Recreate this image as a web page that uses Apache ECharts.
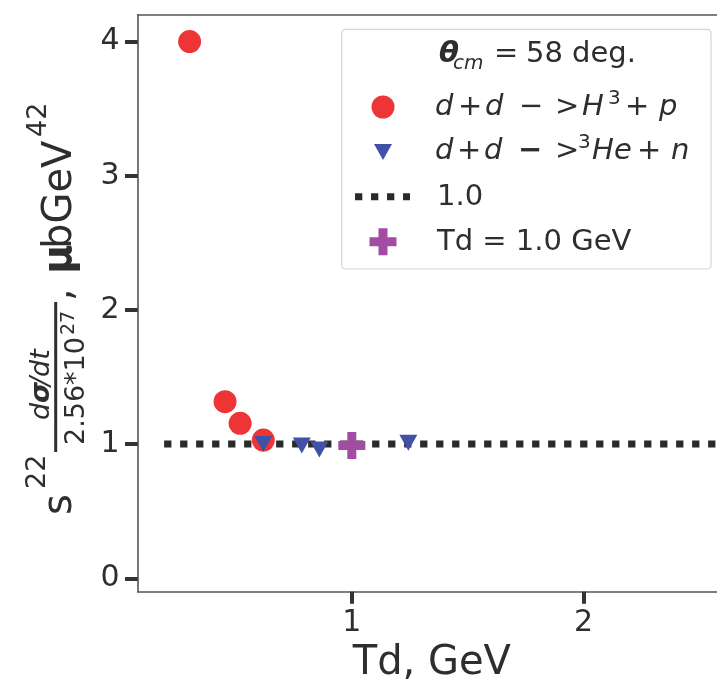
<!DOCTYPE html>
<html>
<head>
<meta charset="utf-8">
<script src="https://cdn.jsdelivr.net/npm/echarts@6/dist/echarts.min.js"></script>
<style>
  html, body { margin: 0; padding: 0; background: #fff; }
  #chart { width: 717px; height: 692px; }
</style>
</head>
<body>
<div id="chart"></div>
<script>
// Scaled cross section s^22 dσ/dt vs deuteron kinetic energy, θcm = 58°
const tritonX = [0.30, 0.453, 0.518, 0.618];
const tritonY = [4.0, 1.316, 1.155, 1.03];
const helionX = [0.618, 0.784, 0.86, 1.244];
const helionY = [1.0, 0.99, 0.96, 1.01];
const refX = [0.19, 2.6];
const refY = [1.0, 1.0];
const tdX = [1.0];
const tdY = [0.99];
const xTickValues = [1, 2];
const yTickValues = [0, 1, 2, 3, 4];

const FONT = 'DejaVu Sans';
const INK = '#2e2e2e';
const RED = '#ee3535';
const BLUE = '#4152a6';
const PURPLE = '#a24ca2';

const pairs = (xs, ys) => xs.map((x, i) => [x, ys[i]]);
const PLUS = 'path://M3,0 H6 V3 H9 V6 H6 V9 H3 V6 H0 V3 H3 Z';

// text placed by its baseline
function txt(x, base, text, size, extra) {
  return {
    type: 'text', x: x, y: base - 0.35 * size, z: 100,
    style: Object.assign({
      text: text, fontSize: size, fontFamily: FONT, fill: INK,
      align: 'left', verticalAlign: 'middle'
    }, extra || {})
  };
}
const IT = { fontStyle: 'italic' };

// rotated y-axis title: s^22 (dσ/dt)/(2.56*10^27), μbGeV^42
const yTitle = {
  type: 'group', x: 75, y: 515, rotation: Math.PI / 2, z: 100,
  children: [
    txt(0, 0, 's', 40),
    txt(26, -28, '22', 27),
    { type: 'rect', shape: { x: 63, y: -20.8, width: 150, height: 3 }, style: { fill: INK } },
    txt(95, -24, 'd', 27, IT),
    txt(112, -24, 'σ', 27, { fontStyle: 'italic', fontWeight: 'bold' }),
    txt(129, -24, '/', 27, IT),
    txt(138, -24, 'dt', 27, IT),
    txt(70, 11.5, '2.56*10', 27),
    txt(180, 1, '27', 19),
    txt(214, 0, ',', 40),
    txt(241, 0, 'μ', 40, { fontWeight: 'bold' }),
    txt(266, 0, 'bGeV', 40),
    txt(378, -27, '42', 27)
  ]
};

// legend panel
const legend = {
  type: 'group', z: 90,
  children: [
    { type: 'rect', shape: { x: 341.7, y: 29.3, width: 369.3, height: 239.7, r: 4 },
      style: { fill: 'rgba(255,255,255,0.85)', stroke: '#d4d4d4', lineWidth: 1.2 } },
    txt(439, 65, 'θ', 29, { fontStyle: 'italic', fontWeight: 'bold' }),
    txt(453, 71, 'cm', 20, IT),
    txt(494, 65, '=', 29),
    txt(526, 65, '58 deg.', 29),

    { type: 'circle', shape: { cx: 383, cy: 107, r: 11.5 }, style: { fill: RED } },
    txt(435, 118, 'd', 29, IT), txt(458, 118, '+', 29), txt(485, 118, 'd', 29, IT),
    txt(519, 118, '−', 29), txt(555, 118, '>', 29), txt(582, 118, 'H', 29, IT),
    txt(608, 106, '3', 20), txt(625, 118, '+', 29), txt(659, 118, 'p', 29, IT),

    { type: 'polygon', shape: { points: [[374, 144], [392, 144], [383, 160]] }, style: { fill: BLUE } },
    txt(435, 162, 'd', 29, IT), txt(457, 162, '+', 29), txt(484, 162, 'd', 29, IT),
    txt(518, 162, '−', 29, { fontWeight: 'bold' }), txt(555, 162, '>', 29),
    txt(578, 150, '3', 20), txt(592, 162, 'H', 29, IT), txt(614, 162, 'e', 29, IT),
    txt(637, 162, '+', 29), txt(671, 162, 'n', 29, IT),

    { type: 'line', shape: { x1: 355, y1: 196.7, x2: 410, y2: 196.7 },
      style: { stroke: '#2a2a2a', lineWidth: 7, lineDash: [7.3, 8.7], lineCap: 'butt' } },
    txt(437, 207.5, '1.0', 29),

    { type: 'polygon', shape: { points: [[378.5, 228.2], [387.5, 228.2], [387.5, 237.2], [396.5, 237.2], [396.5, 246.2], [387.5, 246.2], [387.5, 255.2], [378.5, 255.2], [378.5, 246.2], [369.5, 246.2], [369.5, 237.2], [378.5, 237.2]] },
      style: { fill: PURPLE } },
    txt(437, 252.5, 'Td = 1.0 GeV', 29)
  ]
};

const chart = echarts.init(document.getElementById('chart'), null, { renderer: 'canvas' });
chart.setOption({
  animation: false,
  backgroundColor: '#fff',
  grid: { left: 137.7, top: 14.7, right: 0, bottom: 100.3, show: false },
  xAxis: [{
    type: 'value', min: 0.076, max: 2.576, position: 'bottom',
    axisLine: { show: true, onZero: false, lineStyle: { color: '#555', width: 1.6 } },
    axisTick: { show: true, customValues: xTickValues, length: 12, lineStyle: { color: '#333', width: 4 } },
    axisLabel: { customValues: xTickValues, fontSize: 30, fontFamily: FONT, color: INK, margin: 17 },
    splitLine: { show: false },
    name: 'Td, GeV', nameLocation: 'middle', nameGap: 36,
    nameTextStyle: { fontSize: 40, fontFamily: FONT, color: INK, padding: [0, 0, 0, 9] }
  }, {
    type: 'value', min: 0.076, max: 2.576, position: 'top',
    axisLine: { show: true, onZero: false, lineStyle: { color: '#555', width: 1.6 } },
    axisTick: { show: false }, axisLabel: { show: false }, splitLine: { show: false }
  }],
  yAxis: {
    type: 'value', min: -0.1, max: 4.2,
    axisLine: { show: true, onZero: false, lineStyle: { color: '#555', width: 1.6 } },
    axisTick: { show: true, customValues: yTickValues, length: 12.7, lineStyle: { color: '#333', width: 4 } },
    axisLabel: { customValues: yTickValues, fontSize: 30, fontFamily: FONT, color: INK, margin: 18 },
    splitLine: { show: false }
  },
  series: [
    {
      name: '1.0', type: 'line', data: pairs(refX, refY), symbol: 'none', z: 1,
      lineStyle: { color: '#2a2a2a', width: 7, type: [7.3, 8.7], cap: 'butt' }
    },
    {
      name: 'd + d -> H3 + p', type: 'scatter', data: pairs(tritonX, tritonY), z: 2,
      symbol: 'circle', symbolSize: 23, itemStyle: { color: RED, opacity: 1 }
    },
    {
      name: 'd + d -> 3He + n', type: 'scatter', data: pairs(helionX, helionY), z: 3,
      symbol: 'triangle', symbolSize: [18, 16], symbolRotate: 180, itemStyle: { color: BLUE, opacity: 1 }
    },
    {
      name: 'Td = 1.0 GeV', type: 'scatter', data: pairs(tdX, tdY), z: 4,
      symbol: PLUS, symbolSize: 27, itemStyle: { color: PURPLE, opacity: 1 }
    }
  ],
  graphic: [yTitle, legend]
});
</script>
</body>
</html>
